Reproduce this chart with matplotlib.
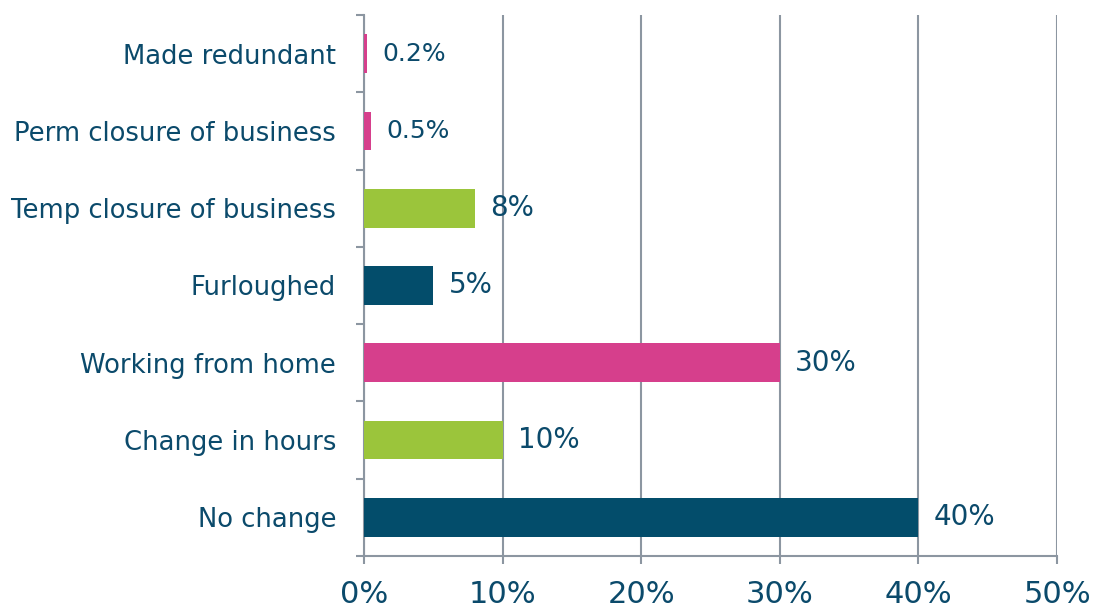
import numpy as np
import matplotlib.pyplot as plt
from matplotlib.ticker import FixedLocator, FuncFormatter

categories = ["No change", "Change in hours", "Working from home", "Furloughed",
              "Temp closure of business", "Perm closure of business", "Made redundant"]
values = [40, 10, 30, 5, 8, 0.5, 0.2]
labels = ["40%", "10%", "30%", "5%", "8%", "0.5%", "0.2%"]

teal = "#034d6b"
pink = "#d63f8c"
green = "#9bc53b"
colors = [teal, green, pink, teal, green, pink, pink]
text_color = "#0b4a6b"
gray = "#8c96a1"

plt.rcParams["font.family"] = ["DejaVu Sans"]

fig = plt.figure(figsize=(10.94, 6.11), dpi=100)
ax = fig.add_axes([0.3327, 0.09, 0.9662 - 0.3327, 0.9755 - 0.09])

y = np.arange(len(categories))
ax.barh(y, values, height=0.5, color=colors, zorder=3)

for yi, v, lab in zip(y, values, labels):
    fs = 18 if "." in lab else 20
    ax.annotate(lab, (v, yi), xytext=(11, 0), textcoords="offset points",
                va="center", ha="left", fontsize=fs, color=text_color)

ax.set_xlim(0, 50)
ax.set_ylim(-0.5, 6.5)
ax.set_xticks(np.arange(0, 51, 10))
ax.xaxis.set_major_formatter(FuncFormatter(lambda v, p: "{:.0f}%".format(v)))
ax.set_yticks(y)
ax.set_yticklabels(categories)
ax.yaxis.set_minor_locator(FixedLocator(np.arange(-0.5, 7, 1)))

ax.tick_params(axis="y", which="major", length=0, pad=20, labelsize=18.6, labelcolor=text_color)
ax.tick_params(axis="y", which="minor", length=6, width=1.5, color=gray)
ax.tick_params(axis="x", length=6, width=1.5, color=gray, pad=11, labelsize=22, labelcolor=text_color)

for s in ["top", "right"]:
    ax.spines[s].set_visible(False)
for s in ["left", "bottom"]:
    ax.spines[s].set_color(gray)
    ax.spines[s].set_linewidth(1.5)

ax.grid(axis="x", color=gray, linewidth=1.5, zorder=0)

fig.savefig("out.png", dpi=100)
